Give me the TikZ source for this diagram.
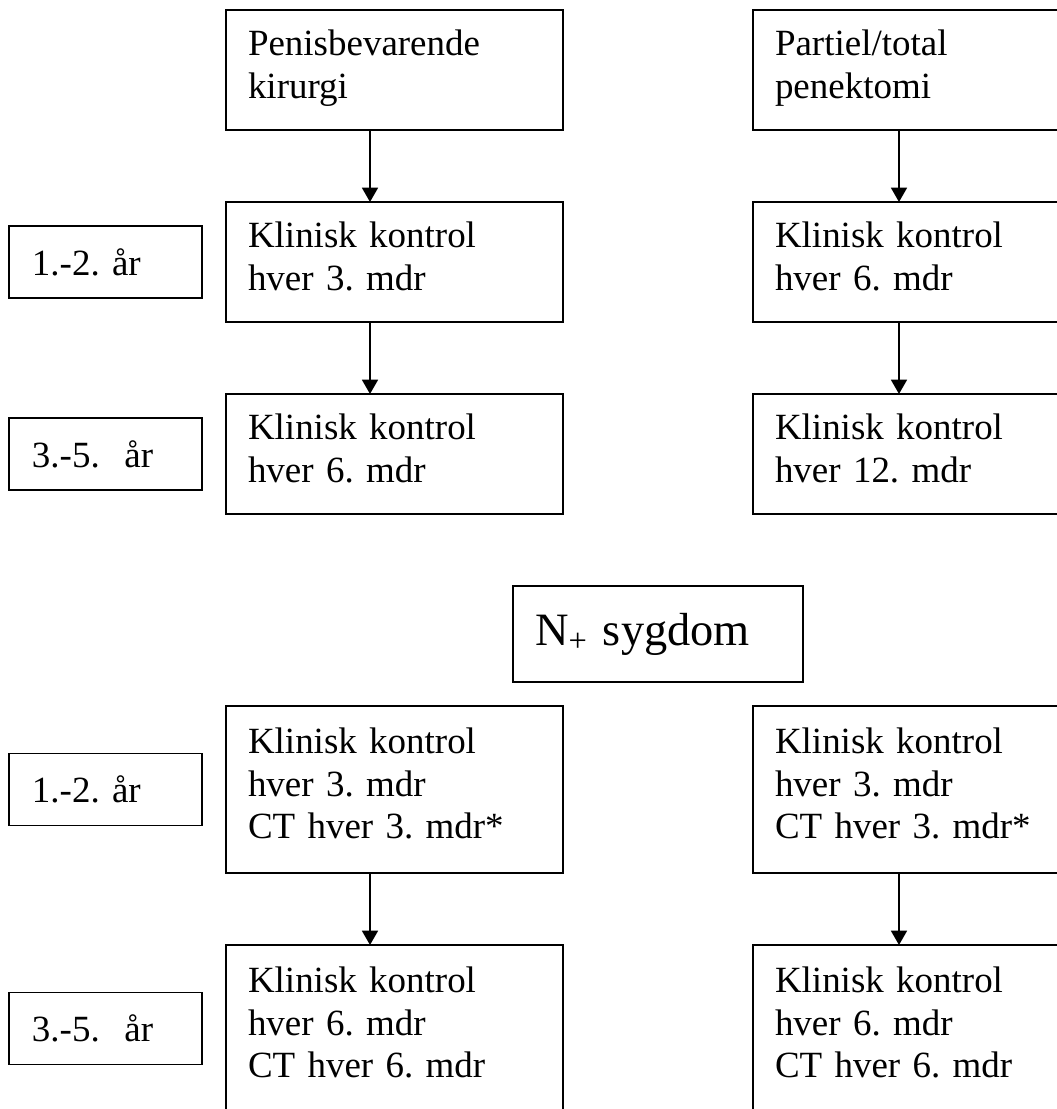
\documentclass[tikz,border=0pt]{standalone}
\usepackage{fontspec}
\setmainfont{Liberation Serif}
\usetikzlibrary{arrows.meta, positioning}
\frenchspacing

\begin{document}
\begin{tikzpicture}[
    node distance=1.8cm,
    box/.style={
        rectangle, draw, line width=1.3pt, outer sep=0pt,
        text width=7.325cm, inner xsep=0.55cm, inner ysep=0pt,
        minimum height=3cm, align=left,
        font=\fontsize{26.3}{30.2}\selectfont,
        execute at end node={\rule[-0.3cm]{0pt}{0.3cm}}
    },
    tallbox/.style={box, minimum height=4.175cm},
    yearbox/.style={
        rectangle, draw, line width=1.3pt, outer sep=0pt,
        text width=3.675cm, inner xsep=0.575cm, inner ysep=0pt,
        minimum height=1.8cm, align=left,
        font=\fontsize{26.3}{30.2}\selectfont
    },
    nbox/.style={
        rectangle, draw, line width=1.3pt, outer sep=0pt,
        text width=6.15cm, inner xsep=0.55cm, inner ysep=0pt,
        minimum height=2.4cm, align=left,
        font=\fontsize{33}{40}\selectfont
    },
    arrow/.style={-{Triangle[width=0.4cm, length=0.36cm]}, line width=1.3pt},
]

\path[use as bounding box, clip] (0,0) rectangle (26.425,-27.725);

\node[box, anchor=north west] (pen) at (5.65,-0.25) {Penisbevarende\\kirurgi};
\node[box, right=4.75cm of pen] (par) {Partiel/total\\penektomi};

\node[box, below=of pen] (k1) {Klinisk kontrol\\hver 3. mdr};
\node[box, below=of k1]  (k2) {Klinisk kontrol\\hver 6. mdr};
\node[box, below=of par] (k1r) {Klinisk kontrol\\hver 6. mdr};
\node[box, below=of k1r] (k2r) {Klinisk kontrol\\hver 12. mdr};

\node[yearbox, left=0.6cm of k1] (yr1) {1.-2. år};
\node[yearbox, left=0.6cm of k2] (yr2) {3.-5.\ \ år};

\node[nbox, below=of k2, xshift=6.5875cm] (nplus) {N\textsubscript{+} sygdom};

\node[tallbox, below=4.8cm of k2] (c1) {Klinisk kontrol\\hver 3. mdr\\CT hver 3. mdr*};
\node[tallbox, below=of c1]       (c2) {Klinisk kontrol\\hver 6. mdr\\CT hver 6. mdr};
\node[tallbox, right=4.75cm of c1] (c1r) {Klinisk kontrol\\hver 3. mdr\\CT hver 3. mdr*};
\node[tallbox, below=of c1r]       (c2r) {Klinisk kontrol\\hver 6. mdr\\CT hver 6. mdr};

\node[yearbox, left=0.6cm of c1] (yr3) {1.-2. år};
\node[yearbox, left=0.6cm of c2] (yr4) {3.-5.\ \ år};

\draw[arrow] ([xshift=3.6cm]pen.south west) -- ([xshift=3.6cm]k1.north west);
\draw[arrow] ([xshift=3.6cm]k1.south west)  -- ([xshift=3.6cm]k2.north west);
\draw[arrow] ([xshift=3.65cm]par.south west) -- ([xshift=3.65cm]k1r.north west);
\draw[arrow] ([xshift=3.65cm]k1r.south west) -- ([xshift=3.65cm]k2r.north west);

\draw[arrow] ([xshift=3.6cm]c1.south west)   -- ([xshift=3.6cm]c2.north west);
\draw[arrow] ([xshift=3.65cm]c1r.south west) -- ([xshift=3.65cm]c2r.north west);

\end{tikzpicture}
\end{document}
